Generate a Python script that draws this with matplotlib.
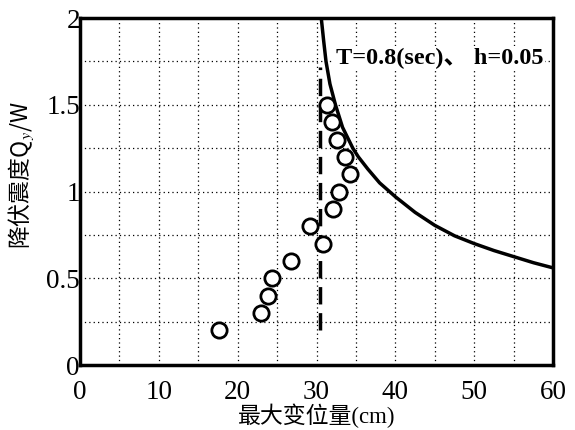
import matplotlib
matplotlib.use('Agg')
import matplotlib.pyplot as plt

# response points (max displacement cm, yield seismic coefficient)
disp = [17.6, 22.9, 23.8, 24.4, 26.7, 29.2, 30.8, 32.1, 32.9, 34.3, 33.6, 32.6, 31.9, 31.3]
qy = [0.2, 0.3, 0.4, 0.5, 0.6, 0.8, 0.7, 0.9, 1.0, 1.1, 1.2, 1.3, 1.4, 1.5]

# elastic limit line (dashed)
dash_x = [30.5, 30.5]
dash_y = [0.2, 1.72]

# envelope curve
curve_x = [30.6, 30.9, 31.2, 31.7, 32.4, 33.3, 34.6, 35.3, 36.5, 38.0, 40.0,
           42.5, 45.0, 47.5, 50.0, 52.5, 55.0, 57.5, 60.0]
curve_y = [2.0, 1.87, 1.75, 1.62, 1.5, 1.37, 1.25, 1.20, 1.13, 1.05, 0.97,
           0.88, 0.805, 0.745, 0.70, 0.66, 0.625, 0.59, 0.56]

xticks = [0, 10, 20, 30, 40, 50, 60]
yticks = [0, 0.5, 1, 1.5, 2]
ytick_labels = ['0', '0.5', '1', '1.5', '2']

plt.rcParams['font.family'] = ['Liberation Serif', 'Noto Sans CJK SC']
plt.rcParams['mathtext.fontset'] = 'stix'

fig = plt.figure(figsize=(5.75, 4.3), dpi=100)
ax = fig.add_axes([0.139, 0.151, 0.823, 0.807])

ax.plot(curve_x, curve_y, color='black', lw=2.5, solid_capstyle='butt', zorder=3)
ax.plot(dash_x, dash_y, color='black', lw=2.5, dashes=(5, 2.5), zorder=3)
ax.plot(disp, qy, 'o', mfc='white', mec='black', ms=11, mew=2, zorder=4)

ax.set_xlim(0, 60)
ax.set_ylim(0, 2)
ax.set_xticks(xticks)
ax.set_yticks(yticks)
ax.set_yticklabels(ytick_labels)
ax.set_xticks(range(0, 61, 5), minor=True)
ax.set_yticks([i * 0.25 for i in range(9)], minor=True)
ax.grid(True, which='both', linestyle=(0, (1, 2.5)), color='black', lw=0.9)
ax.tick_params(which='both', length=0)
ax.tick_params(axis='x', labelsize=19.5, pad=10.5)
ax.tick_params(axis='y', labelsize=19.5, pad=0)
for s in ax.spines.values():
    s.set_linewidth(2.5)

ax.set_xlabel('最大变位量(cm)', fontsize=16.5, labelpad=-1)
ax.set_ylabel('降伏震度Q$_y$/W', fontsize=16.5, family='Noto Sans CJK SC')
ax.yaxis.set_label_coords(-0.093, 0.548)

ax.text(58.75, 1.77, 'T=0.8(sec)、 h=0.05', ha='right', va='center',
        fontsize=17.5, fontweight='bold', zorder=5,
        bbox=dict(facecolor='white', edgecolor='none', pad=1))

fig.savefig('out.png', dpi=100)
